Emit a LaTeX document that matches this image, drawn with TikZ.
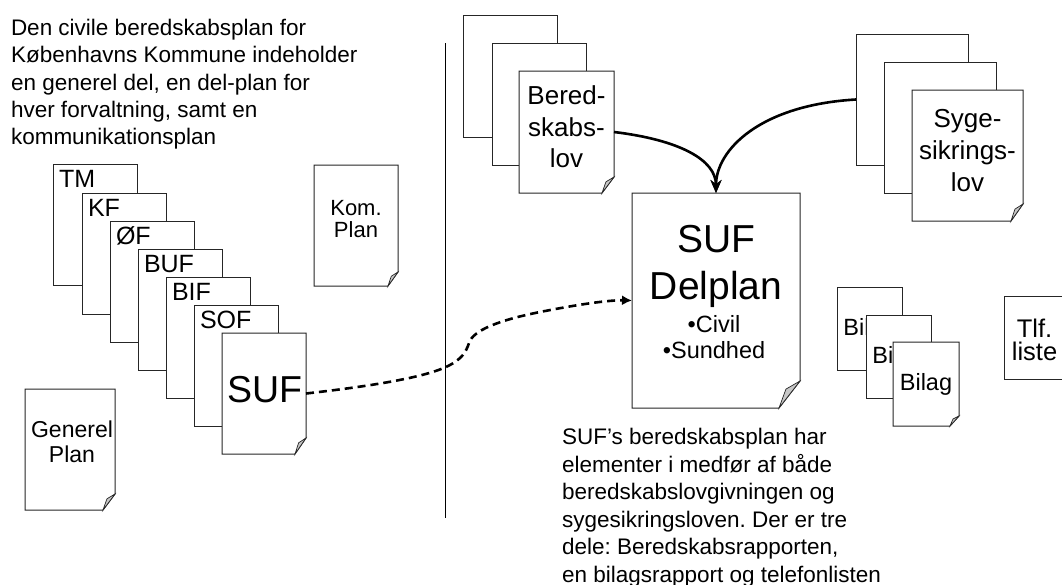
\documentclass[tikz,border=0pt]{standalone}
\usepackage{fontspec}
\setmainfont{Liberation Sans}
\usetikzlibrary{arrows.meta}
\frenchspacing

\tikzset{
  pageline/.style={draw=black!85, line width=1pt, fill=white},
  foldfill/.style={fill=black!22, draw=black!85, line width=0.7pt},
  slot/.style={inner sep=0pt, outer sep=0pt},
  txt/.style={inner sep=0pt, outer sep=0pt, align=center},
  note/.style={inner sep=0pt, outer sep=0pt, align=left, font=\fontsize{22.5}{27.4}\selectfont},
  tab/.style={inner sep=0pt, outer sep=0pt, anchor=base west, font=\fontsize{25}{26}\selectfont},
  flow/.style={line width=2.6pt, -{Stealth[length=13pt,width=11pt]}},
  dashflow/.style={line width=2.6pt, dash pattern=on 8pt off 5pt, -{Latex[length=10pt,width=10pt]}},
}

% plain sheet: name, left, top, width, height
\newcommand\sheet[5]{%
  \node[slot, pageline, minimum width=#4pt, minimum height=#5pt, anchor=north west] (#1) at (#2,#3) {};}

% sheet with a folded lower right corner: name, left, top, width, height, fold x, fold y
\newcommand\foldsheet[7]{%
  \draw[pageline] (#2,#3) -- ++(#4,0) -- ++(0,#5-#7) -- ++(-#6,#7) -- (#2,#3+#5) -- cycle;
  \draw[foldfill] (#2+#4-#6,#3+#5) -- (#2+#4,#3+#5-#7) -- (#2+#4-0.67*#6,#3+#5-0.7*#7) -- cycle;
  \node[slot, minimum width=#4pt, minimum height=#5pt, anchor=north west] (#1) at (#2,#3) {};}

\begin{document}
\begin{tikzpicture}[x=1pt, y=-1pt]
\path[use as bounding box] (0,0) rectangle (1062,584);
\clip (0,0) rectangle (1062,584);
\fill[white] (0,0) rectangle (1062,584);

% introduction
\node[note, anchor=north west] (intro) at (11,19)
  {Den civile beredskabsplan for\\Københavns Kommune indeholder\\en generel del, en del-plan for\\hver forvaltning, samt en\\kommunikationsplan};

% one sub-plan per administration
\sheet{tm}{53}{164}{84}{121}
\node[tab] (tmlab) at ([xshift=6pt,yshift=-23pt]tm.north west) {TM};
\sheet{kf}{82}{193}{84}{121}
\node[tab] (kflab) at ([xshift=6pt,yshift=-23pt]kf.north west) {KF};
\sheet{of}{110}{221}{84}{121}
\node[tab] (oflab) at ([xshift=6pt,yshift=-23pt]of.north west) {ØF};
\sheet{buf}{138}{249}{84}{121}
\node[tab] (buflab) at ([xshift=6pt,yshift=-23pt]buf.north west) {BUF};
\sheet{bif}{166}{277}{84}{121}
\node[tab] (biflab) at ([xshift=6pt,yshift=-23pt]bif.north west) {BIF};
\sheet{sof}{194}{305}{84}{121}
\node[tab] (soflab) at ([xshift=6pt,yshift=-23pt]sof.north west) {SOF};
\foldsheet{suf}{222}{333}{84}{121}{11}{16}
\node[tab, font=\fontsize{37.5}{40}\selectfont] (suflab) at (227,402) {SUF};

% communication plan and general plan
\foldsheet{kom}{314}{165}{84}{121}{10}{14}
\node[txt, anchor=north, font=\fontsize{22}{22}\selectfont] (komlab) at (356,200) {Kom.\\Plan};
\foldsheet{gen}{25}{389}{90}{121}{12}{16}
\node[txt, anchor=north, font=\fontsize{23}{25}\selectfont] (genlab) at (72,421) {Generel\\Plan};

% divider
\draw[line width=1pt] (445.7,43) -- (445.7,518);

% civil defence act
\sheet{bered1}{463}{15}{94}{122}
\sheet{bered2}{492}{43}{94}{122}
\foldsheet{bered}{519}{71}{95}{122}{12}{16}
\node[txt, anchor=north, font=\fontsize{26}{31.5}\selectfont] (beredlab) at (566.5,86) {Bered-\\skabs-\\lov};

% health insurance act
\sheet{syge1}{856}{34}{112}{131}
\sheet{syge2}{884}{62}{112}{131}
\foldsheet{syge}{912}{90}{111}{131}{12}{17}
\node[txt, anchor=north, font=\fontsize{26}{32}\selectfont] (sygelab) at (967.5,109) {Syge-\\sikrings-\\lov};

% the SUF sub-plan
\foldsheet{delplan}{632}{193}{168}{215}{21}{27}
\node[txt, anchor=north, font=\fontsize{39}{47}\selectfont] (dptitle) at (716,225) {SUF\\Delplan};
\node[txt, anchor=north, font=\fontsize{23.5}{26}\selectfont] (dpitems) at (714,315) {•Civil\\•Sundhed};

% appendices and phone list
\sheet{bilag1}{837}{287}{65}{83}
\node[txt, anchor=base, font=\fontsize{23.5}{24}\selectfont] (bilag1lab) at (869.5,335) {Bilag};
\sheet{bilag2}{866}{315}{65}{83}
\node[txt, anchor=base, font=\fontsize{23.5}{24}\selectfont] (bilag2lab) at (898.5,363) {Bilag};
\foldsheet{bilag}{893}{342}{66}{84}{9}{10}
\node[txt, anchor=base, font=\fontsize{23.5}{24}\selectfont] (bilaglab) at (926,390) {Bilag};

\sheet{tlf}{1004}{296}{62}{83}
\node[txt, anchor=north, font=\fontsize{25.5}{23}\selectfont] (tlflab) at (1034.5,319) {Tlf.\\liste};

% summary
\node[note, anchor=north west, font=\fontsize{22.5}{27.5}\selectfont] (summary) at (562,428.6)
  {SUF’s beredskabsplan har\\elementer i medfør af både\\beredskabslovgivningen og\\sygesikringsloven. Der er tre\\dele: Beredskabsrapporten,\\en bilagsrapport og telefonlisten};

% connectors
\draw[flow] (bered.east) .. controls (680,140) and (716,160) .. (delplan.north);
\draw[flow] (syge1.west) .. controls (760,105) and (716,150) .. (delplan.north);
\draw[dashflow] (suf.east) .. controls (390,384) and (430,375) .. (448,366)
  .. controls (462,359) and (466,352) .. (469,343)
  .. controls (473,330) and (500,320) .. (540,312)
  .. controls (580,304) and (610,300) .. (delplan.west);
\end{tikzpicture}
\end{document}
